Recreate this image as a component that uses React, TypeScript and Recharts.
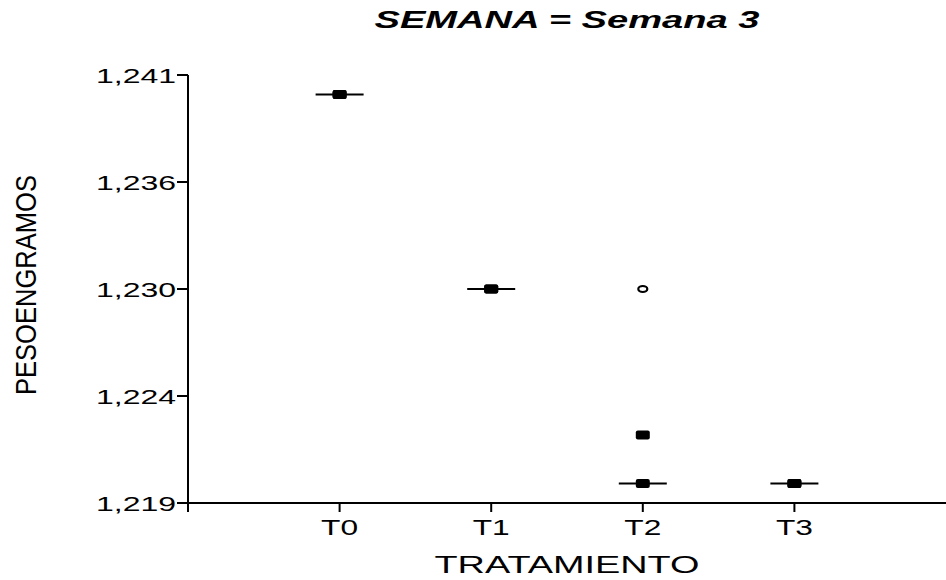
import React from 'react';
import { ScatterChart, Scatter, XAxis, YAxis, Label } from 'recharts';

// categories sit at x = 1..4 on a 0..5 axis
const categories = ['T0', 'T1', 'T2', 'T3'];
const boxValues = [1.24, 1.23, 1.22, 1.22];
const meanValues = [1.24, 1.23, 1.2225, 1.22];
const outlierCats = ['T2'];
const outlierValues = [1.23];

const xTicks = [0, 1, 2, 3, 4];
const xTickLabels = ['', 'T0', 'T1', 'T2', 'T3'];
const yTicks = [1.219, 1.2245, 1.23, 1.2355, 1.241];
const yTickLabels = ['1,219', '1,224', '1,230', '1,236', '1,241'];

const FONT = '"Liberation Sans", Arial, sans-serif';

const boxData = categories.map((c, i) => ({ x: i + 1, y: boxValues[i] }));
const meanData = categories.map((c, i) => ({ x: i + 1, y: meanValues[i] }));
const outlierData = outlierCats.map((c, i) => ({ x: categories.indexOf(c) + 1, y: outlierValues[i] }));

const MedianShape = (props: any) => {
  const { cx, cy } = props;
  return (
    <g>
      <line x1={cx - 24} x2={cx + 24} y1={cy} y2={cy} stroke="#000" strokeWidth={2} />
      <rect x={cx - 7} y={cy - 4.5} width={14} height={9} rx={2} fill="#000" />
    </g>
  );
};

const MeanShape = (props: any) => {
  const { cx, cy } = props;
  return <rect x={cx - 7} y={cy - 4.5} width={14} height={9} rx={2} fill="#000" />;
};

const OutlierShape = (props: any) => {
  const { cx, cy } = props;
  return <ellipse cx={cx} cy={cy} rx={4.5} ry={3} fill="none" stroke="#000" strokeWidth={2.2} />;
};

const XTick = (props: any) => {
  const { x, y, payload } = props;
  const label = xTickLabels[xTicks.indexOf(payload.value)] ?? '';
  if (!label) return null;
  return (
    <text x={x} y={y + 21} textAnchor="middle" fontFamily={FONT} fontSize={22} fill="#000"
      textLength={37} lengthAdjust="spacingAndGlyphs">
      {label}
    </text>
  );
};

const YTick = (props: any) => {
  const { x, y, payload } = props;
  const idx = yTicks.findIndex((t) => Math.abs(t - payload.value) < 1e-9);
  return (
    <text x={x + 2} y={y} dy="0.36em" textAnchor="end" fontFamily={FONT} fontSize={21} fill="#000"
      textLength={80} lengthAdjust="spacingAndGlyphs">
      {yTickLabels[idx]}
    </text>
  );
};

export default function App() {
  return (
    <div style={{ position: 'absolute', left: 0, top: 0, width: 946, height: 580, background: '#fff' }}>
      <svg width={946} height={40} style={{ position: 'absolute', left: 0, top: 0 }}>
        <text x={567} y={28} textAnchor="middle" fontFamily={FONT} fontWeight="bold" fontStyle="italic"
          fontSize={23} fill="#000" textLength={385} lengthAdjust="spacingAndGlyphs">
          SEMANA = Semana 3
        </text>
      </svg>
      <ScatterChart width={946} height={580} margin={{ top: 75, right: 0, bottom: 0, left: 68 }}>
        <XAxis
          type="number"
          dataKey="x"
          domain={[0, 5]}
          ticks={xTicks}
          allowDataOverflow
          height={77}
          stroke="#000"
          axisLine={{ stroke: '#000', strokeWidth: 2 }}
          tickLine={{ stroke: '#000', strokeWidth: 2 }}
          tickSize={9}
          tick={<XTick />}
        >
          <Label
            content={(p: any) => {
              const vb = p.viewBox || {};
              return (
                <text x={vb.x + vb.width / 2} y={573} textAnchor="middle" fontFamily={FONT} fontSize={23}
                  fill="#000" textLength={265} lengthAdjust="spacingAndGlyphs">
                  TRATAMIENTO
                </text>
              );
            }}
          />
        </XAxis>
        <YAxis
          type="number"
          dataKey="y"
          domain={[1.219, 1.241]}
          ticks={yTicks}
          allowDataOverflow
          width={120}
          stroke="#000"
          axisLine={{ stroke: '#000', strokeWidth: 2 }}
          tickLine={{ stroke: '#000', strokeWidth: 2 }}
          tickSize={11}
          tickMargin={3}
          tick={<YTick />}
        >
          <Label
            content={(p: any) => {
              const vb = p.viewBox || {};
              const cy = vb.y + vb.height / 2 - 4;
              return (
                <text x={25} y={cy} transform={`rotate(-90, 25, ${cy})`} dy="0.36em" textAnchor="middle"
                  fontFamily={FONT} fontSize={30} fill="#000" textLength={220} lengthAdjust="spacingAndGlyphs">
                  PESOENGRAMOS
                </text>
              );
            }}
          />
        </YAxis>
        <Scatter data={boxData} shape={<MedianShape />} isAnimationActive={false} />
        <Scatter data={meanData} shape={<MeanShape />} isAnimationActive={false} />
        <Scatter data={outlierData} shape={<OutlierShape />} isAnimationActive={false} />
      </ScatterChart>
    </div>
  );
}
